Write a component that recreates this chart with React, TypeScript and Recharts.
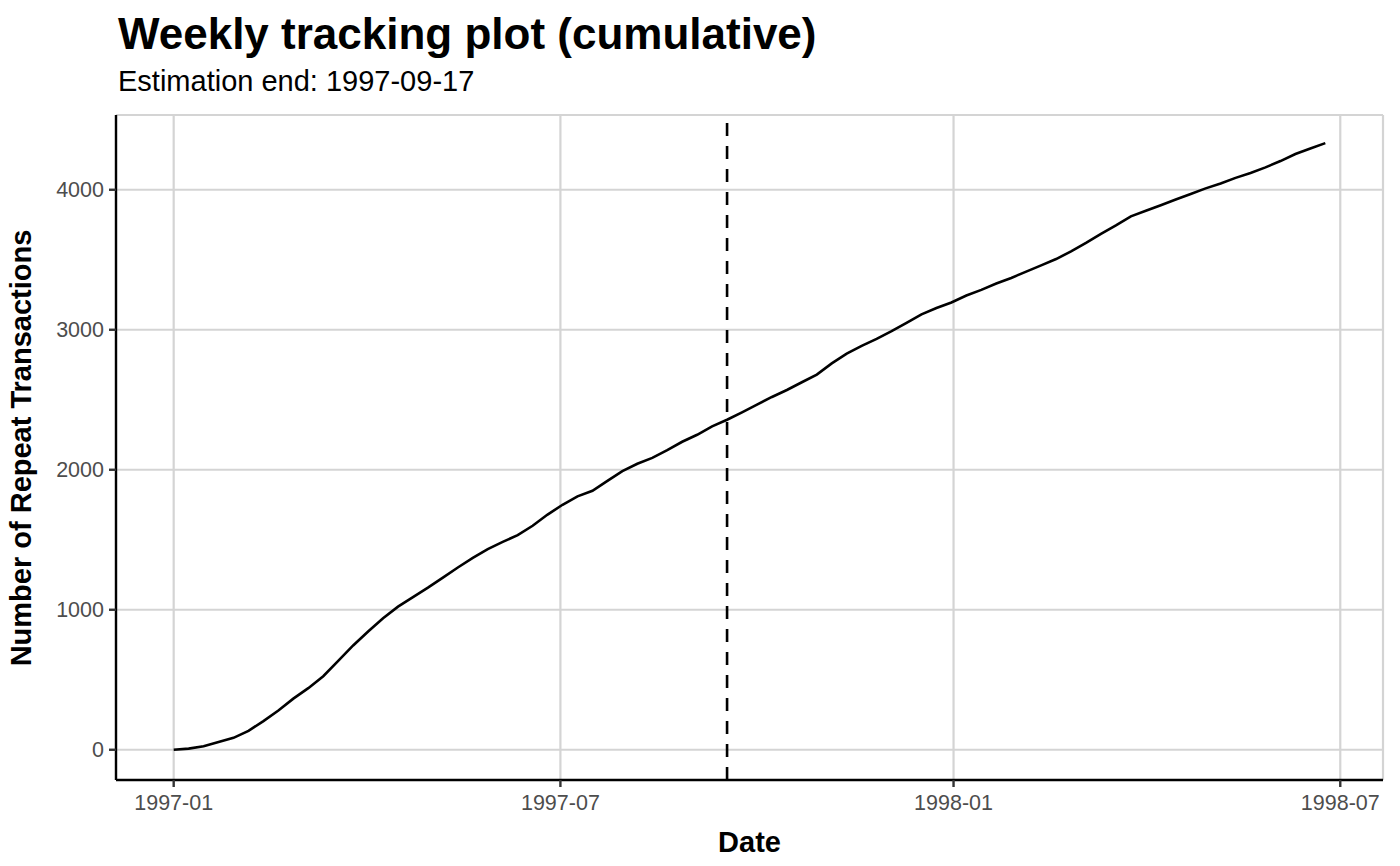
import React from 'react';
import { LineChart, Line, XAxis, YAxis, CartesianGrid, ReferenceLine } from 'recharts';

// weekly cumulative repeat transactions, weeks starting 1997-01-01
const firstWeek = '1997-01-01';
const repeatCum = [
  0, 8, 25, 55, 85, 135, 205, 280, 365, 440,
  525, 635, 745, 845, 940, 1022, 1090, 1158, 1230, 1302,
  1370, 1433, 1485, 1533, 1600, 1680, 1750, 1810, 1850, 1920,
  1990, 2043, 2085, 2140, 2200, 2250, 2310, 2357, 2410, 2465,
  2520, 2570, 2625, 2680, 2760, 2830, 2885, 2935, 2990, 3050,
  3110, 3155, 3195, 3245, 3285, 3330, 3370, 3415, 3460, 3505,
  3560, 3620, 3685, 3745, 3810, 3850, 3890, 3930, 3970, 4010,
  4045, 4085, 4120, 4160, 4205, 4255, 4295, 4333,
];
const xTickDates = ['1997-01-01', '1997-07-01', '1998-01-01', '1998-07-01'];
const xTickLabels = ['1997-01', '1997-07', '1998-01', '1998-07'];
const yTicks = [0, 1000, 2000, 3000, 4000];
const estimationEnd = '1997-09-17';

const DAY = 86400000;
const dayOf = (iso: string) => (Date.parse(iso) - Date.parse(firstWeek)) / DAY;

const data = repeatCum.map((v, i) => ({ day: i * 7, value: v }));
const xTicks = xTickDates.map(dayOf);

const FONT = '"Liberation Sans", Arial, Helvetica, sans-serif';

const App: React.FC = () => {
  return (
    <div style={{ position: 'relative', width: 1400, height: 866, fontFamily: FONT, background: '#fff' }}>
      <style>{'body{margin:0}'}</style>
      <div style={{ position: 'absolute', left: 118, top: 12, fontSize: 44, lineHeight: '44px', fontWeight: 700, color: '#000', whiteSpace: 'nowrap' }}>
        Weekly tracking plot (cumulative)
      </div>
      <div style={{ position: 'absolute', left: 118, top: 67, fontSize: 29, lineHeight: '29px', color: '#000', whiteSpace: 'nowrap' }}>
        Estimation end: {estimationEnd}
      </div>
      <LineChart width={1400} height={866} data={data} margin={{ top: 115, right: 17, bottom: 26, left: 0 }}>
        <CartesianGrid stroke="#d4d4d4" strokeWidth={2.2} />
        <XAxis
          dataKey="day"
          type="number"
          domain={[-27, 566]}
          ticks={xTicks}
          tickFormatter={(d: number) => xTickLabels[xTicks.indexOf(d)] ?? ''}
          height={60}
          axisLine={{ stroke: '#000', strokeWidth: 2.4 }}
          tickLine={{ stroke: '#333', strokeWidth: 2.4 }}
          tickSize={7}
          tickMargin={8}
          tick={{ fill: '#4d4d4d', fontSize: 21.5, fontFamily: FONT }}
          allowDataOverflow
        />
        <YAxis
          type="number"
          domain={[-216, 4534]}
          ticks={yTicks}
          width={116}
          axisLine={{ stroke: '#000', strokeWidth: 2.4 }}
          tickLine={{ stroke: '#333', strokeWidth: 2.4 }}
          tickSize={7}
          tickMargin={5}
          tick={{ fill: '#4d4d4d', fontSize: 21.5, fontFamily: FONT }}
          allowDataOverflow
        />
        <ReferenceLine x={dayOf(estimationEnd)} stroke="#000" strokeWidth={2.6} strokeDasharray="13 10" />
        <Line type="linear" dataKey="value" stroke="#000" strokeWidth={2.6} dot={false} isAnimationActive={false} />
      </LineChart>
      <div style={{ position: 'absolute', left: 749.5, top: 827.5, transform: 'translateX(-50%)', fontSize: 29, lineHeight: '29px', fontWeight: 700, whiteSpace: 'nowrap' }}>
        Date
      </div>
      <div style={{ position: 'absolute', left: 21, top: 447.5, transform: 'translate(-50%, -50%) rotate(-90deg)', fontSize: 29, lineHeight: '29px', fontWeight: 700, whiteSpace: 'nowrap' }}>
        Number of Repeat Transactions
      </div>
    </div>
  );
};

export default App;
